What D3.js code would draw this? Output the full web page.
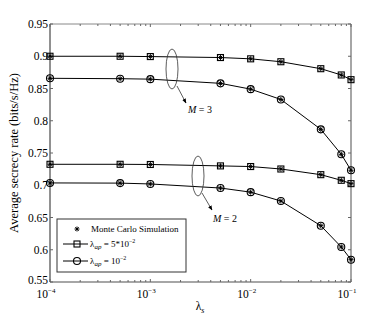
<!DOCTYPE html>
<html>
<head>
<meta charset="utf-8">
<script src="https://cdn.jsdelivr.net/npm/d3@7"></script>
<style>
  body { margin: 0; background: #fff; }
  text { font-family: "Liberation Serif", "Times New Roman", serif; fill: #000; }
</style>
</head>
<body>
<svg id="chart" width="388" height="318"></svg>
<script>
// lambda_s sample points
var LAMBDA_S = [1e-4, 5e-4, 1e-3, 5e-3, 1e-2, 2e-2, 5e-2, 8e-2, 1e-1];
// M = 3
var M3_SQUARE = [0.9, 0.9, 0.8995, 0.898, 0.896, 0.8915, 0.8807, 0.871, 0.8637];
var M3_CIRCLE = [0.8658, 0.8652, 0.8645, 0.858, 0.849, 0.833, 0.7867, 0.748, 0.7232];
// M = 2
var M2_SQUARE = [0.7325, 0.7325, 0.7322, 0.730, 0.729, 0.7252, 0.7164, 0.7077, 0.7025];
var M2_CIRCLE = [0.7036, 0.7033, 0.702, 0.6957, 0.6893, 0.6756, 0.6373, 0.6043, 0.5846];
var Y_TICKS = [0.55, 0.6, 0.65, 0.7, 0.75, 0.8, 0.85, 0.9, 0.95];
var X_TICKS = [1e-4, 1e-3, 1e-2, 1e-1];

var PLOT = {left: 50, right: 351, top: 24, bottom: 282};
var svg = d3.select('#chart');

var x = d3.scaleLog().domain([1e-4, 1e-1]).range([PLOT.left, PLOT.right]);
var y = d3.scaleLinear().domain([0.55, 0.95]).range([PLOT.bottom, PLOT.top]);

// minor ticks for the log axis
var minorX = [];
[1e-4, 1e-3, 1e-2].forEach(function(d) {
  for (var k = 2; k <= 9; k++) minorX.push(d * k);
});

var gAxes = svg.append('g');
// box
gAxes.append('line').attr('x1', PLOT.left).attr('x2', PLOT.right).attr('y1', PLOT.top).attr('y2', PLOT.top).style('stroke', '#888');
gAxes.append('line').attr('x1', PLOT.right).attr('x2', PLOT.right).attr('y1', PLOT.top).attr('y2', PLOT.bottom).style('stroke', '#888').style('stroke-width', 1.5);
gAxes.append('line').attr('x1', PLOT.left).attr('x2', PLOT.right).attr('y1', PLOT.bottom).attr('y2', PLOT.bottom).style('stroke', '#888').style('stroke-width', 1.5);
gAxes.append('line').attr('x1', PLOT.left).attr('x2', PLOT.left).attr('y1', PLOT.top).attr('y2', PLOT.bottom).style('stroke', '#222');

// y ticks (inward, both sides)
Y_TICKS.forEach(function(v) {
  var yy = y(v);
  gAxes.append('line').attr('x1', PLOT.left).attr('x2', PLOT.left + 3).attr('y1', yy).attr('y2', yy).style('stroke', '#666');
  gAxes.append('line').attr('x1', PLOT.right).attr('x2', PLOT.right - 3).attr('y1', yy).attr('y2', yy).style('stroke', '#666');
  gAxes.append('text')
    .attr('x', PLOT.left - 2).attr('y', v === 0.55 ? yy + 2 : yy + 4)
    .attr('text-anchor', 'end')
    .style('font-size', '11.5px')
    .text(d3.format('.2~f')(v));
});

// x ticks
X_TICKS.concat(minorX).forEach(function(v) {
  var xx = x(v);
  var len = X_TICKS.indexOf(v) >= 0 ? 3 : 2;
  gAxes.append('line').attr('x1', xx).attr('x2', xx).attr('y1', PLOT.bottom).attr('y2', PLOT.bottom - len).style('stroke', '#666');
  gAxes.append('line').attr('x1', xx).attr('x2', xx).attr('y1', PLOT.top).attr('y2', PLOT.top + len).style('stroke', '#666');
});
X_TICKS.forEach(function(v) {
  var t = gAxes.append('text')
    .attr('x', x(v) - 4).attr('y', PLOT.bottom + 16)
    .attr('text-anchor', 'middle')
    .style('font-size', '11.5px');
  t.append('tspan').text('10');
  t.append('tspan').attr('dy', -5).style('font-size', '7px').text('\u2212' + (-Math.round(Math.log10(v))));
});

// axis labels
var xl = svg.append('text').attr('x', 200).attr('y', 310).attr('text-anchor', 'middle').style('font-size', '11.5px');
xl.append('tspan').text('\u03bb');
xl.append('tspan').attr('dy', 3).style('font-size', '8px').style('font-style', 'italic').text('s');

svg.append('text')
  .attr('transform', 'translate(18,' + ((PLOT.top + PLOT.bottom) / 2) + ') rotate(-90)')
  .attr('text-anchor', 'middle')
  .style('font-size', '12.5px')
  .text('Average secrecy rate (bits/s/Hz)');

// curves
var line = d3.line().x(function(d) { return x(d[0]); }).y(function(d) { return y(d[1]); });
var SERIES = [
  {vals: M3_SQUARE, marker: 'square'},
  {vals: M3_CIRCLE, marker: 'circle'},
  {vals: M2_SQUARE, marker: 'square'},
  {vals: M2_CIRCLE, marker: 'circle'}
];

function drawStar(g, cx, cy, r) {
  g.append('line').attr('x1', cx - r).attr('x2', cx + r).attr('y1', cy).attr('y2', cy).style('stroke', '#000');
  g.append('line').attr('x1', cx).attr('x2', cx).attr('y1', cy - r).attr('y2', cy + r).style('stroke', '#000');
  g.append('line').attr('x1', cx - r * 0.7).attr('x2', cx + r * 0.7).attr('y1', cy - r * 0.7).attr('y2', cy + r * 0.7).style('stroke', '#000');
  g.append('line').attr('x1', cx - r * 0.7).attr('x2', cx + r * 0.7).attr('y1', cy + r * 0.7).attr('y2', cy - r * 0.7).style('stroke', '#000');
}

function drawMarker(g, type, cx, cy) {
  if (type === 'square') {
    g.append('rect').attr('x', cx - 3).attr('y', cy - 3).attr('width', 6).attr('height', 6)
      .style('fill', 'none').style('stroke', '#000').style('stroke-width', 1.1);
  } else {
    g.append('circle').attr('cx', cx).attr('cy', cy).attr('r', 3.5)
      .style('fill', 'none').style('stroke', '#000').style('stroke-width', 1.1);
  }
}

var gLines = svg.append('g');
SERIES.forEach(function(s) {
  var pts = LAMBDA_S.map(function(l, i) { return [l, s.vals[i]]; });
  gLines.append('path').datum(pts).attr('d', line)
    .style('fill', 'none').style('stroke', '#000').style('stroke-width', 1);
  pts.forEach(function(p) {
    drawMarker(gLines, s.marker, x(p[0]), y(p[1]));
    drawStar(gLines, x(p[0]), y(p[1]), 2.5);
  });
});

// annotations: ellipses + arrows
var defs = svg.append('defs');
defs.append('marker').attr('id', 'arrow').attr('viewBox', '0 0 10 10').attr('refX', 9).attr('refY', 5)
  .attr('markerWidth', 6).attr('markerHeight', 6).attr('orient', 'auto')
  .append('path').attr('d', 'M0,1 L10,5 L0,9 z').style('fill', '#000');

function annotate(cx, cy, rx, ry, ax1, ay1, ax2, ay2, tx, ty, label) {
  svg.append('ellipse').attr('cx', cx).attr('cy', cy).attr('rx', rx).attr('ry', ry)
    .style('fill', 'none').style('stroke', '#333').style('stroke-width', 0.8);
  svg.append('line').attr('x1', ax1).attr('y1', ay1).attr('x2', ax2).attr('y2', ay2)
    .style('stroke', '#333').style('stroke-width', 0.8).attr('marker-end', 'url(#arrow)');
  var t = svg.append('text').attr('x', tx).attr('y', ty).style('font-size', '10px');
  t.append('tspan').style('font-style', 'italic').text(label[0]);
  t.append('tspan').text(label[1]);
}
annotate(172, 69, 6, 20, 177, 86, 186, 103, 188, 113, ['M', ' = 3']);
annotate(198, 176, 6, 20, 202, 193, 212, 210, 213, 222, ['M', ' = 2']);

// legend
var gLeg = svg.append('g');
gLeg.append('rect').attr('x', 57).attr('y', 219).attr('width', 129).attr('height', 53)
  .style('fill', '#fff').style('stroke', '#333').style('stroke-width', 1);
drawStar(gLeg, 77, 229, 2.5);
gLeg.append('text').attr('x', 91).attr('y', 232).style('font-size', '9px').text('Monte Carlo Simulation');

[{marker: 'square', y: 244, exp: '5*10', sup: '\u22122'}, {marker: 'circle', y: 261, exp: '10', sup: '\u22122'}].forEach(function(r) {
  gLeg.append('line').attr('x1', 63).attr('x2', 88).attr('y1', r.y).attr('y2', r.y).style('stroke', '#000');
  drawMarker(gLeg, r.marker, 77, r.y);
  var t = gLeg.append('text').attr('x', 90).attr('y', r.y + 3).style('font-size', '9px');
  t.append('tspan').text('\u03bb');
  t.append('tspan').attr('dy', 2).style('font-size', '7px').style('font-style', 'italic').text('ap');
  t.append('tspan').attr('dy', -2).text(' = ' + r.exp);
  t.append('tspan').attr('dy', -4).style('font-size', '6px').text(r.sup);
});
</script>
</body>
</html>
